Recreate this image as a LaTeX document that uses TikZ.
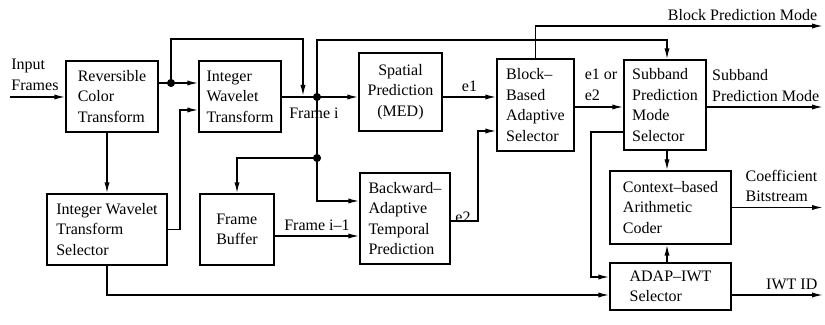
\documentclass[tikz,border=0pt]{standalone}
\usepackage{fontspec}
\setmainfont{Liberation Serif}
\usepackage{tikz}
\usetikzlibrary{arrows.meta}
\tikzset{
	blk/.style={draw, line width=0.7pt, inner sep=0pt, align=left, font=\fontsize{8}{10.25}\selectfont},
	lbl/.style={inner sep=2.5pt, align=left, font=\fontsize{8}{10.25}\selectfont},
	wire/.style={line width=0.7pt},
	>={Latex[length=5.5pt,width=2.6pt]}
}

\begin{document}
\begin{tikzpicture}[x=0.5pt,y=-0.5pt]
		\useasboundingbox (0,0) rectangle (825,325);
		% blocks
		\node[blk, minimum width=46pt, minimum height=35.5pt] (rct) at (112,96.5) {Reversible\\Color\\Transform};
		\node[blk, minimum width=41pt, minimum height=35.5pt] (iwt) at (240,96.5) {Integer\\Wavelet\\Transform};
		\node[blk, align=center, minimum width=41.5pt, minimum height=39pt] (spat) at (400.5,92) {Spatial\\Prediction\\(MED)};
		\node[blk, minimum width=38.5pt, minimum height=46pt] (bbas) at (535.5,105) {Block--\\Based\\Adaptive\\Selector};
		\node[blk, minimum width=41pt, minimum height=45pt] (spms) at (665,105) {Subband\\Prediction\\Mode\\Selector};
		\node[blk, minimum width=60.5pt, minimum height=36.5pt] (cabac) at (670.5,207.5) {Context--based\\Arithmetic\\Coder};
		\node[blk, minimum width=60.5pt, minimum height=23.5pt] (adap) at (670.5,286.5) {ADAP--IWT\\Selector};
		\node[blk, minimum width=60pt, minimum height=35.5pt] (iwts) at (107,229.5) {Integer Wavelet\\Transform\\Selector};
		\node[blk, minimum width=37pt, minimum height=35.5pt] (fbuf) at (237,229.5) {Frame\\Buffer};
		\node[blk, minimum width=45pt, minimum height=45.5pt] (temp) at (405,218.5) {Backward--\\Adaptive\\Temporal\\Prediction};
		% points
		\coordinate (in) at (10,97);
		\coordinate (j1) at (171,83);
		\coordinate (t1) at (303,39);
		\coordinate (fi) at (317,97);
		\coordinate (fj) at (317,158);
		\coordinate (t2) at (667,40);
		\coordinate (bpm) at (823,26);
		\coordinate (e2c) at (478,131);
		\coordinate (aux) at (591,200);
		\coordinate (iw1) at (180,170);
		% connectors
		\draw[wire,->] (in) -- (in -| rct.west);
		\draw[wire] (j1 -| rct.east) -- (j1);
		\draw[wire,->] (j1) -- (j1 -| iwt.west);
		\draw[wire,->] (j1) |- (t1) -- ([yshift=0.5pt]t1 |- fi);
		\draw[wire] (iwt.east |- fi) -- (fi);
		\draw[wire,->] (fi) -- (fi -| spat.west);
		\draw[wire,->] (fi) |- (t2) -- (t2 |- spms.north);
		\draw[wire] (fi) -- (fj);
		\draw[wire,->] (fj) -| (fbuf.north);
		\draw[wire,->] (fj) |- ([yshift=8.75pt]temp.west);
		\draw[wire,->] ([yshift=-3.25pt]fbuf.east) -- ([yshift=-3.25pt]fbuf.east -| temp.west) node[lbl, midway, above] (lfi1) {Frame i--1};
		\draw[wire,->] (spat.east |- fi) -- (fi -| bbas.west) node[lbl, midway, above] (le1) {e1};
		\draw[wire,->] ([yshift=-1.25pt]temp.east) -| (e2c) -- (e2c -| bbas.west);
		\draw[wire,->] (bbas.north) |- (bpm) node[lbl, above left] (lbpm) {Block Prediction Mode};
		\draw[wire,->] ([yshift=-1pt]bbas.east) -- ([yshift=-1pt]bbas.east -| spms.west);
		\draw[wire,->] ([yshift=-1pt]spms.east) -- ([yshift=-1pt]spms.east -| bpm);
		\draw[wire,->] (t2 |- spms.south) -- (t2 |- cabac.north);
		\draw[wire,->] ([yshift=-13.5pt]spms.west) -| (aux) |- ([yshift=4.75pt]adap.west);
		\draw[wire,->] (t2 |- adap.north) -- (t2 |- cabac.south);
		\draw[wire,->] (cabac.east) -- (cabac.east -| bpm) node[lbl, above left] (lcb) {Coefficient\\Bitstream};
		\draw[wire,->] ([yshift=-4.25pt]adap.east) -- ([yshift=-4.25pt]adap.east -| bpm) node[lbl, above left] (lid) {IWT ID};
		\draw[wire,->] (rct.south -| iwts.north) -- (iwts.north);
		\draw[wire,->] (iwts.east) -| (iw1) |- ([yshift=-6.75pt]iwt.west);
		\draw[wire,->] (iwts.south) |- ([yshift=-4.25pt]adap.west);
		% junctions
		\filldraw[black] (j1) circle (1.8pt);
		\filldraw[black] (fi) circle (1.8pt);
		\filldraw[black] (fj) circle (1.8pt);
		% labels
		\node[lbl, anchor=west] (lin) at (6,75) {Input\\Frames};
		\node[lbl] (lfi) at (314,113) {Frame i};
		\node[lbl] (le2) at (463,217) {e2};
		\node[lbl] (le12) at (601,85) {e1 or\\e2};
		\node[lbl, above right] (lspm) at ([yshift=-1pt]spms.east) {Subband\\Prediction Mode};
	\end{tikzpicture}
\end{document}
